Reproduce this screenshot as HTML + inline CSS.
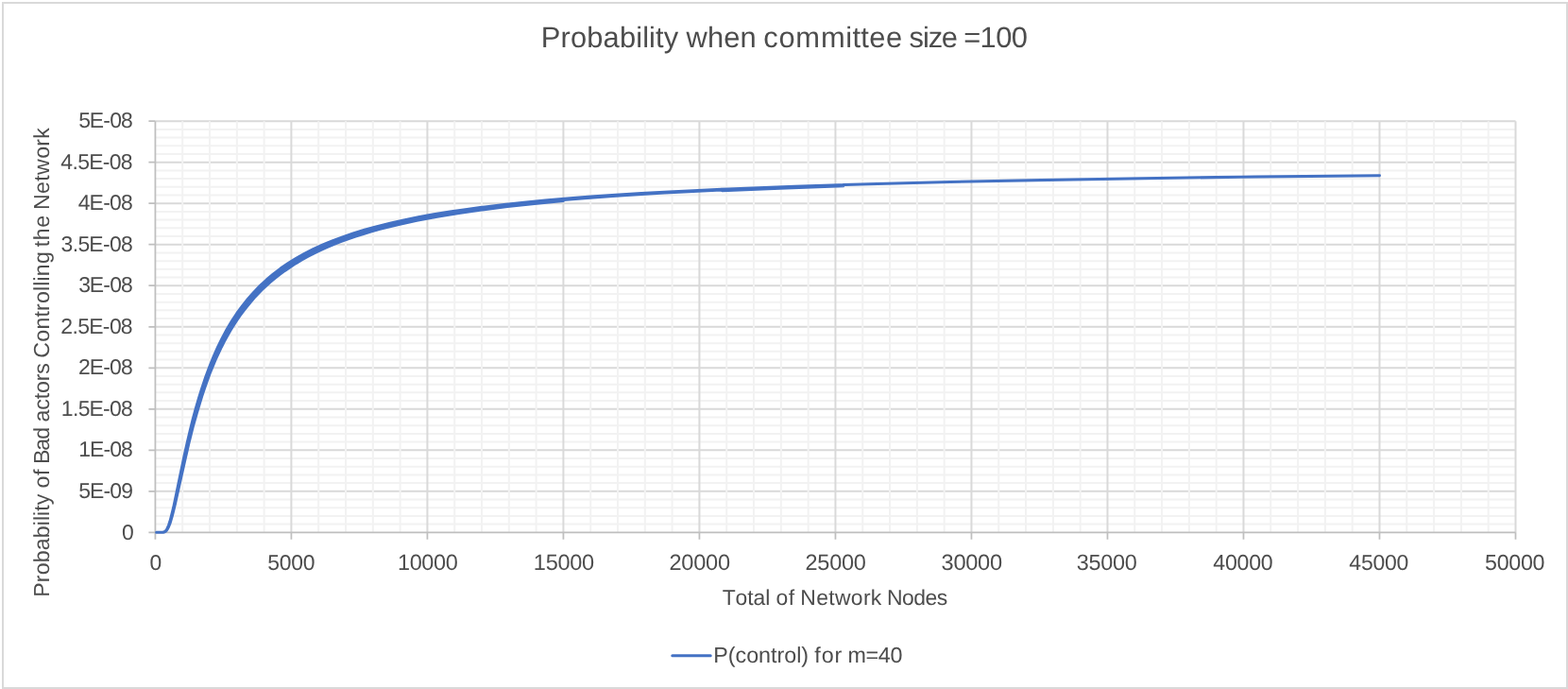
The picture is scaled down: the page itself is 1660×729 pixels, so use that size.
<!DOCTYPE html>
<html><head><meta charset="utf-8"><title>Probability when committee size =100</title>
<style>
html,body{margin:0;padding:0;background:#fff;}
body{width:1660px;height:729px;overflow:hidden;}
svg{display:block;}
text{font-family:"Liberation Sans", sans-serif;fill:#4d4d4d;text-rendering:geometricPrecision;}
</style></head><body>
<svg width="1660" height="729" viewBox="0 0 1660 729">
<rect x="0" y="0" width="1660" height="729" fill="#fff"/>
<rect x="3" y="3" width="1656" height="725" fill="none" stroke="#d9d9d9" stroke-width="2"/>

<path d="M164.40 554.60H1604.50M164.40 545.90H1604.50M164.40 537.19H1604.50M164.40 528.49H1604.50M164.40 511.09H1604.50M164.40 502.39H1604.50M164.40 493.68H1604.50M164.40 484.98H1604.50M164.40 467.58H1604.50M164.40 458.88H1604.50M164.40 450.17H1604.50M164.40 441.47H1604.50M164.40 424.07H1604.50M164.40 415.37H1604.50M164.40 406.66H1604.50M164.40 397.96H1604.50M164.40 380.56H1604.50M164.40 371.86H1604.50M164.40 363.15H1604.50M164.40 354.45H1604.50M164.40 337.05H1604.50M164.40 328.35H1604.50M164.40 319.64H1604.50M164.40 310.94H1604.50M164.40 293.54H1604.50M164.40 284.84H1604.50M164.40 276.13H1604.50M164.40 267.43H1604.50M164.40 250.03H1604.50M164.40 241.33H1604.50M164.40 232.62H1604.50M164.40 223.92H1604.50M164.40 206.52H1604.50M164.40 197.82H1604.50M164.40 189.11H1604.50M164.40 180.41H1604.50M164.40 163.01H1604.50M164.40 154.31H1604.50M164.40 145.60H1604.50M164.40 136.90H1604.50" stroke="#f2f2f2" stroke-width="2" fill="none"/>
<path d="M164.40 519.79H1604.50M164.40 476.28H1604.50M164.40 432.77H1604.50M164.40 389.26H1604.50M164.40 345.75H1604.50M164.40 302.24H1604.50M164.40 258.73H1604.50M164.40 215.22H1604.50M164.40 171.71H1604.50M164.40 128.20H1604.50" stroke="#d9d9d9" stroke-width="2" fill="none"/>
<path d="M193.20 128.20V563.30M222.00 128.20V563.30M250.81 128.20V563.30M279.61 128.20V563.30M337.21 128.20V563.30M366.01 128.20V563.30M394.82 128.20V563.30M423.62 128.20V563.30M481.22 128.20V563.30M510.02 128.20V563.30M538.83 128.20V563.30M567.63 128.20V563.30M625.23 128.20V563.30M654.03 128.20V563.30M682.84 128.20V563.30M711.64 128.20V563.30M769.24 128.20V563.30M798.04 128.20V563.30M826.85 128.20V563.30M855.65 128.20V563.30M913.25 128.20V563.30M942.05 128.20V563.30M970.86 128.20V563.30M999.66 128.20V563.30M1057.26 128.20V563.30M1086.06 128.20V563.30M1114.87 128.20V563.30M1143.67 128.20V563.30M1201.27 128.20V563.30M1230.07 128.20V563.30M1258.88 128.20V563.30M1287.68 128.20V563.30M1345.28 128.20V563.30M1374.08 128.20V563.30M1402.89 128.20V563.30M1431.69 128.20V563.30M1489.29 128.20V563.30M1518.09 128.20V563.30M1546.90 128.20V563.30M1575.70 128.20V563.30" stroke="#f2f2f2" stroke-width="2" fill="none"/>
<path d="M308.41 128.20V563.30M452.42 128.20V563.30M596.43 128.20V563.30M740.44 128.20V563.30M884.45 128.20V563.30M1028.46 128.20V563.30M1172.47 128.20V563.30M1316.48 128.20V563.30M1460.49 128.20V563.30M1604.50 128.20V563.30" stroke="#d9d9d9" stroke-width="2" fill="none"/>
<path d="M164.40 128.20V570.80M157.40 563.30H1604.50M308.41 563.30V570.80M452.42 563.30V570.80M596.43 563.30V570.80M740.44 563.30V570.80M884.45 563.30V570.80M1028.46 563.30V570.80M1172.47 563.30V570.80M1316.48 563.30V570.80M1460.49 563.30V570.80M1604.50 563.30V570.80M157.40 519.79H164.40M157.40 476.28H164.40M157.40 432.77H164.40M157.40 389.26H164.40M157.40 345.75H164.40M157.40 302.24H164.40M157.40 258.73H164.40M157.40 215.22H164.40M157.40 171.71H164.40M157.40 128.20H164.40" stroke="#bfbfbf" stroke-width="1.75" fill="none"/>
<polygon points="165.6,563.3 172.2,563.3 173.3,563.1 174.2,562.7 175.3,561.8 176.4,560.4 177.4,558.5 178.5,555.7 179.7,552.3 180.8,548.3 183.6,537.2 186.1,525.2 194.9,483.1 198.1,468.8 201.1,456.0 204.1,443.9 207.3,432.1 210.5,421.2 213.7,410.9 217.7,399.0 221.9,387.7 226.2,377.1 230.6,367.1 235.4,357.4 240.3,348.3 245.5,339.6 250.8,331.5 256.6,323.6 262.5,316.2 268.7,309.2 275.3,302.4 282.2,296.0 289.4,289.9 297.0,284.1 305.1,278.6 313.6,273.3 322.4,268.3 331.6,263.7 341.4,259.2 351.8,254.8 362.6,250.8 373.9,246.9 385.9,243.3 399.1,239.6 413.0,236.2 427.5,232.9 442.9,229.8 459.2,226.8 476.3,224.1 494.5,221.4 513.5,218.9 533.6,216.5 554.8,214.2 577.1,212.1 600.6,210.1 625.4,208.1 651.6,206.3 679.1,204.6 708.2,202.9 738.9,201.4 771.3,199.9 841.2,197.2 919.2,194.7 1005.7,192.5 1102.0,190.5 1209.0,188.7 1328.1,187.1 1460.5,185.7 1460.5,185.7 1287.2,187.6 1136.9,189.9 1069.2,191.2 1006.3,192.5 947.7,193.9 892.9,195.5 892.8,196.8 825.7,199.2 764.6,201.8 764.5,201.0 703.6,204.1 675.3,205.7 648.6,207.5 621.9,209.4 596.6,211.5 596.4,212.6 596.3,212.6 565.8,215.5 537.2,218.6 510.6,221.9 485.8,225.4 462.8,229.2 441.2,233.3 421.0,237.7 402.3,242.4 393.4,244.9 384.7,247.5 376.5,250.1 368.5,252.8 360.7,255.7 353.2,258.6 346.0,261.7 338.9,264.9 332.2,268.1 325.7,271.5 319.4,275.0 313.3,278.6 307.4,282.4 301.6,286.4 296.2,290.4 290.8,294.6 286.2,298.4 281.8,302.4 277.4,306.5 273.3,310.7 269.2,315.1 265.2,319.7 261.5,324.2 257.7,329.0 254.1,333.9 250.5,339.2 247.1,344.5 243.7,349.9 240.6,355.5 237.4,361.3 234.4,367.2 231.4,373.5 228.2,380.5 225.2,387.7 222.1,395.3 219.3,403.0 216.4,411.2 213.7,419.4 208.2,437.5 204.1,452.2 200.1,468.2 195.4,488.6 185.1,534.6 182.4,545.6 180.0,553.7 178.7,557.0 177.4,559.7 176.2,561.4 174.9,562.5 173.9,563.0 172.6,563.3 165.6,563.3" fill="#4472c4" stroke="#4472c4" stroke-width="3" stroke-linejoin="round" stroke-linecap="round"/>
<text x="572.75 593.51 603.92 621.27 638.62 655.96 673.25 680.18 687.11 694.05 702.75 718.18 726.41 748.90 766.24 783.58 800.75 808.36 824.38 842.32 868.96 895.27 902.41 911.30 920.33 938.12 955.29 962.51 976.89 982.73 996.63 1013.80 1020.18 1037.57 1054.14 1070.70" y="50.00" font-size="30.87">Probability when committee size =100</text>
<text x="129.09" y="571.20" font-size="22.94">0</text>
<text x="83.16 94.89 109.40 116.32 128.16" y="526.89" font-size="22.94">5E-09</text>
<text x="83.34 94.97 109.40 116.23 127.98" y="483.38" font-size="22.94">1E-08</text>
<text x="64.73 76.88 82.63 94.44 109.01 115.98 127.91" y="439.87" font-size="22.94">1.5E-08</text>
<text x="82.93 94.66 109.17 116.09 127.94" y="396.36" font-size="22.94">2E-08</text>
<text x="64.31 76.50 82.31 94.20 108.84 115.88 127.87" y="352.85" font-size="22.94">2.5E-08</text>
<text x="83.20 94.85 109.32 116.18 127.96" y="309.34" font-size="22.94">3E-08</text>
<text x="64.60 76.74 82.51 94.35 108.95 115.95 127.89" y="265.83" font-size="22.94">3.5E-08</text>
<text x="82.84 94.59 109.13 116.06 127.93" y="222.32" font-size="22.94">4E-08</text>
<text x="64.23 76.43 82.24 94.15 108.81 115.85 127.87" y="178.81" font-size="22.94">4.5E-08</text>
<text x="83.14 94.81 109.28 116.16 127.96" y="135.30" font-size="22.94">5E-08</text>
<text x="158.48" y="602.60" font-size="22.83">0</text>
<text x="283.36 295.83 308.30 320.76" y="602.60" font-size="22.93">5000</text>
<text x="420.93 433.66 446.37 459.09 471.81" y="602.60" font-size="23.47">10000</text>
<text x="564.85 577.64 590.41 603.18 615.96" y="602.60" font-size="23.57">15000</text>
<text x="708.41 721.30 734.18 747.06 759.95" y="602.60" font-size="23.60">20000</text>
<text x="852.52 865.35 878.18 891.02 903.85" y="602.60" font-size="23.51">25000</text>
<text x="996.57 1009.40 1022.24 1035.07 1047.91" y="602.60" font-size="23.64">30000</text>
<text x="1139.78 1152.51 1165.24 1177.97 1190.71" y="602.60" font-size="23.45">35000</text>
<text x="1284.23 1296.88 1309.53 1322.18 1334.83" y="602.60" font-size="23.15">40000</text>
<text x="1428.37 1440.93 1453.49 1466.05 1478.61" y="602.60" font-size="22.99">45000</text>
<text x="1572.05 1584.68 1597.32 1609.96 1622.60" y="602.60" font-size="23.25">50000</text>
<text x="764.63 778.54 791.22 797.51 810.20 815.30 821.38 834.78 841.15 847.19 864.16 877.19 883.88 900.85 913.90 921.82 933.28 938.95 954.92 967.17 979.40 991.66" y="639.80" font-size="22.93">Total of Network Nodes</text>
<text transform="translate(52.00,0) rotate(-90)" x="-631.74 -616.16 -608.34 -595.32 -582.29 -569.27 -556.29 -551.09 -545.89 -540.68 -534.15 -522.56 -516.46 -502.92 -496.48 -491.07 -476.69 -464.72 -451.83 -446.41 -433.70 -422.24 -415.95 -403.22 -395.64 -384.05 -378.74 -361.73 -348.60 -335.53 -328.95 -321.05 -308.00 -302.75 -297.51 -292.19 -279.07 -266.18 -261.31 -254.37 -240.82 -227.93 -222.08 -204.93 -191.77 -185.00 -167.85 -154.66 -146.66" y="0" font-size="23.18">Probability of Bad actors Controlling the Network</text>
<path d="M711.8 693.7H752.2" stroke="#4472c4" stroke-width="3" stroke-linecap="round"/>
<text x="755.27 770.79 778.53 790.15 803.08 816.02 822.48 830.22 843.16 848.32 856.09 862.35 869.65 883.56 891.33 897.42 916.51 929.85 942.56" y="700.80" font-size="23.32">P(control) for m=40</text>
</svg>
</body></html>
